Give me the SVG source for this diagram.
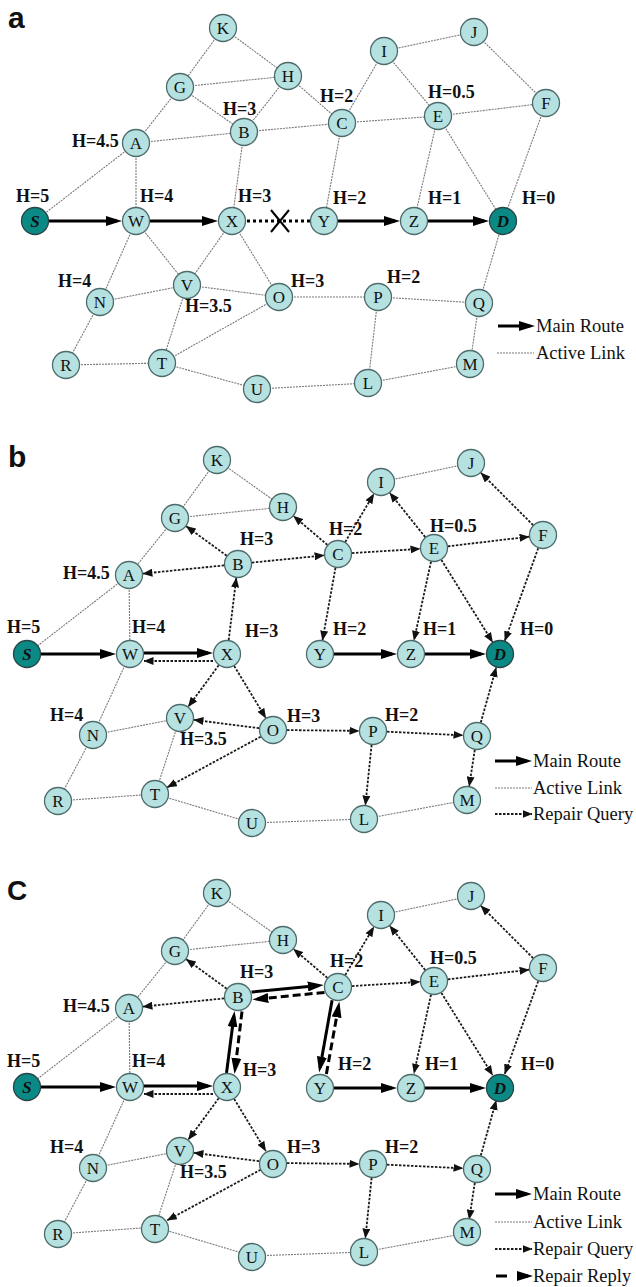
<svg xmlns="http://www.w3.org/2000/svg" width="636" height="1287" viewBox="0 0 636 1287">
<defs>
<marker id="mr" viewBox="0 0 16 10" refX="11" refY="5" markerWidth="16" markerHeight="10" orient="auto" markerUnits="userSpaceOnUse"><path d="M0,0 L16,5 L0,10 Z" fill="#000"/></marker>
<marker id="mq" viewBox="0 0 10 8" refX="9.5" refY="4" markerWidth="10" markerHeight="8" orient="auto" markerUnits="userSpaceOnUse"><path d="M0,0 L10,4 L0,8 Z" fill="#111"/></marker>
</defs>
<style>
.bg{fill:#fff}
.lk{fill:none;stroke:#7a7a7a;stroke-width:1.1;stroke-dasharray:2,1}
.mn{fill:none;stroke:#000;stroke-width:3;marker-end:url(#mr)}
.qr{fill:none;stroke:#1a1a1a;stroke-width:1.8;stroke-dasharray:2.5,1.5;marker-end:url(#mq)}
.rp{fill:none;stroke:#000;stroke-width:3;stroke-dasharray:8,4;marker-end:url(#mr)}
.br{fill:none;stroke:#000;stroke-width:3;stroke-dasharray:3,3}
.nd{fill:#b5e1e1;stroke:#4d6b6b;stroke-width:1.3}
.sd{fill:#0b8985;stroke:#2a4545;stroke-width:1.3}
.n{font-family:"Liberation Serif","Times New Roman",serif;font-size:17px;text-anchor:middle;fill:#111}
.ni{font-family:"Liberation Serif","Times New Roman",serif;font-size:17px;text-anchor:middle;fill:#111;font-style:italic;font-weight:bold}
.h{font-family:"Liberation Serif","Times New Roman",serif;font-size:18px;font-weight:bold;fill:#111}
.lg{font-family:"Liberation Serif","Times New Roman",serif;font-size:18.5px;fill:#111}
.pl{font-family:"Liberation Sans",Arial,sans-serif;font-size:30px;font-weight:bold;fill:#111}
</style>
<rect class="bg" x="0" y="0" width="636" height="1287"/>

<!-- ================= PANEL A ================= -->
<g id="panel-a">
<text class="pl" x="8" y="28">a</text>
<g id="a-connectors">
<path class="lk" d="M223,28 L180,87"/>
<path class="lk" d="M223,28 L288,76"/>
<path class="lk" d="M180,87 L288,76"/>
<path class="lk" d="M180,87 L136,143"/>
<path class="lk" d="M180,87 L244,132"/>
<path class="lk" d="M288,76 L244,132"/>
<path class="lk" d="M288,76 L342,123"/>
<path class="lk" d="M136,143 L244,132"/>
<path class="lk" d="M244,132 L342,123"/>
<path class="lk" d="M244,132 L232,221"/>
<path class="lk" d="M136,143 L136,221"/>
<path class="lk" d="M136,143 L35,221"/>
<path class="lk" d="M342,123 L384,51"/>
<path class="lk" d="M342,123 L438,116"/>
<path class="lk" d="M342,123 L324,221"/>
<path class="lk" d="M384,51 L474,32"/>
<path class="lk" d="M384,51 L438,116"/>
<path class="lk" d="M438,116 L546,103"/>
<path class="lk" d="M474,32 L546,103"/>
<path class="lk" d="M438,116 L414,221"/>
<path class="lk" d="M438,116 L503,221"/>
<path class="lk" d="M546,103 L503,221"/>
<path class="lk" d="M136,221 L100,302"/>
<path class="lk" d="M136,221 L187,285"/>
<path class="lk" d="M232,221 L187,285"/>
<path class="lk" d="M232,221 L279,297"/>
<path class="lk" d="M100,302 L187,285"/>
<path class="lk" d="M100,302 L66,365"/>
<path class="lk" d="M187,285 L279,297"/>
<path class="lk" d="M187,285 L162,363"/>
<path class="lk" d="M66,365 L162,363"/>
<path class="lk" d="M162,363 L279,297"/>
<path class="lk" d="M162,363 L257,389"/>
<path class="lk" d="M279,297 L378,297"/>
<path class="lk" d="M257,389 L368,383"/>
<path class="lk" d="M378,297 L479,303"/>
<path class="lk" d="M378,297 L368,383"/>
<path class="lk" d="M479,303 L503,221"/>
<path class="lk" d="M479,303 L470,364"/>
<path class="lk" d="M368,383 L470,364"/>
<path class="mn" d="M49,221 L117,221"/>
<path class="mn" d="M150,221 L213,221"/>
<path class="br" d="M247,221 L310,221"/>
<path d="M271,210 L289,232 M289,210 L271,232" stroke="#000" stroke-width="2" fill="none"/>
<path class="mn" d="M338,221 L395,221"/>
<path class="mn" d="M428,221 L484,221"/>
</g>
<g id="a-K"><circle class="nd" cx="223" cy="28" r="13.5"/><text class="n" x="223" y="34">K</text></g>
<g id="a-G"><circle class="nd" cx="180" cy="87" r="13.5"/><text class="n" x="180" y="93">G</text></g>
<g id="a-H"><circle class="nd" cx="288" cy="76" r="13.5"/><text class="n" x="288" y="82">H</text></g>
<g id="a-B"><circle class="nd" cx="244" cy="132" r="13.5"/><text class="n" x="244" y="138">B</text></g>
<g id="a-A"><circle class="nd" cx="136" cy="143" r="13.5"/><text class="n" x="136" y="149">A</text></g>
<g id="a-I"><circle class="nd" cx="384" cy="51" r="13.5"/><text class="n" x="384" y="57">I</text></g>
<g id="a-J"><circle class="nd" cx="474" cy="32" r="13.5"/><text class="n" x="474" y="38">J</text></g>
<g id="a-C"><circle class="nd" cx="342" cy="123" r="13.5"/><text class="n" x="342" y="129">C</text></g>
<g id="a-E"><circle class="nd" cx="438" cy="116" r="13.5"/><text class="n" x="438" y="122">E</text></g>
<g id="a-F"><circle class="nd" cx="546" cy="103" r="13.5"/><text class="n" x="546" y="109">F</text></g>
<g id="a-S"><circle class="sd" cx="35" cy="221" r="13.5"/><text class="ni" x="35" y="227">S</text></g>
<g id="a-W"><circle class="nd" cx="136" cy="221" r="13.5"/><text class="n" x="136" y="227">W</text></g>
<g id="a-X"><circle class="nd" cx="232" cy="221" r="13.5"/><text class="n" x="232" y="227">X</text></g>
<g id="a-Y"><circle class="nd" cx="324" cy="221" r="13.5"/><text class="n" x="324" y="227">Y</text></g>
<g id="a-Z"><circle class="nd" cx="414" cy="221" r="13.5"/><text class="n" x="414" y="227">Z</text></g>
<g id="a-D"><circle class="sd" cx="503" cy="221" r="13.5"/><text class="ni" x="503" y="227">D</text></g>
<g id="a-V"><circle class="nd" cx="187" cy="285" r="13.5"/><text class="n" x="187" y="291">V</text></g>
<g id="a-N"><circle class="nd" cx="100" cy="302" r="13.5"/><text class="n" x="100" y="308">N</text></g>
<g id="a-O"><circle class="nd" cx="279" cy="297" r="13.5"/><text class="n" x="279" y="303">O</text></g>
<g id="a-R"><circle class="nd" cx="66" cy="365" r="13.5"/><text class="n" x="66" y="371">R</text></g>
<g id="a-T"><circle class="nd" cx="162" cy="363" r="13.5"/><text class="n" x="162" y="369">T</text></g>
<g id="a-U"><circle class="nd" cx="257" cy="389" r="13.5"/><text class="n" x="257" y="395">U</text></g>
<g id="a-P"><circle class="nd" cx="378" cy="297" r="13.5"/><text class="n" x="378" y="303">P</text></g>
<g id="a-Q"><circle class="nd" cx="479" cy="303" r="13.5"/><text class="n" x="479" y="309">Q</text></g>
<g id="a-M"><circle class="nd" cx="470" cy="364" r="13.5"/><text class="n" x="470" y="370">M</text></g>
<g id="a-L"><circle class="nd" cx="368" cy="383" r="13.5"/><text class="n" x="368" y="389">L</text></g>
<g id="a-labels">
<text class="h" x="16" y="202">H=5</text>
<text class="h" x="140" y="202">H=4</text>
<text class="h" x="238" y="202">H=3</text>
<text class="h" x="58" y="287">H=4</text>
<text class="h" x="185" y="312">H=3.5</text>
<text class="h" x="291" y="287">H=3</text>
<text class="h" x="72" y="147">H=4.5</text>
<text class="h" x="223" y="115">H=3</text>
<text class="h" x="320" y="102">H=2</text>
<text class="h" x="428" y="98">H=0.5</text>
<text class="h" x="333" y="204">H=2</text>
<text class="h" x="428" y="204">H=1</text>
<text class="h" x="522" y="204">H=0</text>
<text class="h" x="387" y="283">H=2</text>
</g>
<g id="a-legend">
<path class="mn" d="M498,326 L530,326"/>
<text class="lg" x="536" y="332">Main Route</text>
<path class="lk" d="M497,353 L534,353"/>
<text class="lg" x="536" y="359">Active Link</text>
</g>
</g>

<!-- ================= PANEL B ================= -->
<g id="panel-b">
<text class="pl" x="8" y="467">b</text>
<g id="b-connectors">
<path class="lk" d="M217,460 L175,518"/>
<path class="lk" d="M217,460 L283,507"/>
<path class="lk" d="M175,518 L283,507"/>
<path class="lk" d="M175,518 L129,575"/>
<path class="lk" d="M129,575 L27,654"/>
<path class="lk" d="M129,575 L130,654"/>
<path class="lk" d="M381,482 L471,463"/>
<path class="lk" d="M130,654 L93,735"/>
<path class="lk" d="M93,735 L180,718"/>
<path class="lk" d="M93,735 L58,801"/>
<path class="lk" d="M180,718 L155,794"/>
<path class="lk" d="M58,801 L155,794"/>
<path class="lk" d="M155,794 L252,823"/>
<path class="lk" d="M252,823 L364,819"/>
<path class="lk" d="M364,819 L467,800"/>
<path class="qr" d="M228.7,640.1 L236.3,577.9"/>
<path class="qr" d="M224.1,565.4 L142.9,573.6"/>
<path class="qr" d="M226.7,555.7 L186.3,526.3"/>
<path class="qr" d="M251.9,562.6 L324.1,555.4"/>
<path class="qr" d="M327.4,544.9 L293.6,516.1"/>
<path class="qr" d="M345.2,542.0 L373.8,494.0"/>
<path class="qr" d="M352.0,553.1 L420.0,548.9"/>
<path class="qr" d="M335.5,567.8 L322.5,640.2"/>
<path class="qr" d="M425.2,537.1 L389.8,492.9"/>
<path class="qr" d="M447.9,546.3 L529.1,536.7"/>
<path class="qr" d="M431.0,561.7 L414.0,640.3"/>
<path class="qr" d="M441.4,559.9 L492.6,642.1"/>
<path class="qr" d="M533.1,525.1 L480.9,472.9"/>
<path class="qr" d="M538.2,548.2 L504.8,640.8"/>
<path class="qr" d="M213,661 L144,661"/>
<path class="qr" d="M218.7,665.3 L188.3,706.7"/>
<path class="qr" d="M234.2,666.0 L265.8,718.0"/>
<path class="qr" d="M259.1,728.2 L193.9,719.8"/>
<path class="qr" d="M260.7,736.7 L167.3,787.3"/>
<path class="qr" d="M287,730.1 L359,730.9"/>
<path class="qr" d="M387,731.7 L463,735.3"/>
<path class="qr" d="M371.6,744.9 L365.4,805.1"/>
<path class="qr" d="M480.8,722.5 L496.2,667.5"/>
<path class="qr" d="M474.8,749.8 L469.2,786.2"/>
<path class="mn" d="M41,654 L111,654"/>
<path class="mn" d="M144,653 L208,653"/>
<path class="mn" d="M334,654 L392,654"/>
<path class="mn" d="M425,654 L481,654"/>
</g>
<g id="b-K"><circle class="nd" cx="217" cy="460" r="13.5"/><text class="n" x="217" y="466">K</text></g>
<g id="b-G"><circle class="nd" cx="175" cy="518" r="13.5"/><text class="n" x="175" y="524">G</text></g>
<g id="b-H"><circle class="nd" cx="283" cy="507" r="13.5"/><text class="n" x="283" y="513">H</text></g>
<g id="b-B"><circle class="nd" cx="238" cy="564" r="13.5"/><text class="n" x="238" y="570">B</text></g>
<g id="b-A"><circle class="nd" cx="129" cy="575" r="13.5"/><text class="n" x="129" y="581">A</text></g>
<g id="b-I"><circle class="nd" cx="381" cy="482" r="13.5"/><text class="n" x="381" y="488">I</text></g>
<g id="b-J"><circle class="nd" cx="471" cy="463" r="13.5"/><text class="n" x="471" y="469">J</text></g>
<g id="b-C"><circle class="nd" cx="338" cy="554" r="13.5"/><text class="n" x="338" y="560">C</text></g>
<g id="b-E"><circle class="nd" cx="434" cy="548" r="13.5"/><text class="n" x="434" y="554">E</text></g>
<g id="b-F"><circle class="nd" cx="543" cy="535" r="13.5"/><text class="n" x="543" y="541">F</text></g>
<g id="b-S"><circle class="sd" cx="27" cy="654" r="13.5"/><text class="ni" x="27" y="660">S</text></g>
<g id="b-W"><circle class="nd" cx="130" cy="654" r="13.5"/><text class="n" x="130" y="660">W</text></g>
<g id="b-X"><circle class="nd" cx="227" cy="654" r="13.5"/><text class="n" x="227" y="660">X</text></g>
<g id="b-Y"><circle class="nd" cx="320" cy="654" r="13.5"/><text class="n" x="320" y="660">Y</text></g>
<g id="b-Z"><circle class="nd" cx="411" cy="654" r="13.5"/><text class="n" x="411" y="660">Z</text></g>
<g id="b-D"><circle class="sd" cx="500" cy="654" r="13.5"/><text class="ni" x="500" y="660">D</text></g>
<g id="b-V"><circle class="nd" cx="180" cy="718" r="13.5"/><text class="n" x="180" y="724">V</text></g>
<g id="b-N"><circle class="nd" cx="93" cy="735" r="13.5"/><text class="n" x="93" y="741">N</text></g>
<g id="b-O"><circle class="nd" cx="273" cy="730" r="13.5"/><text class="n" x="273" y="736">O</text></g>
<g id="b-R"><circle class="nd" cx="58" cy="801" r="13.5"/><text class="n" x="58" y="807">R</text></g>
<g id="b-T"><circle class="nd" cx="155" cy="794" r="13.5"/><text class="n" x="155" y="800">T</text></g>
<g id="b-U"><circle class="nd" cx="252" cy="823" r="13.5"/><text class="n" x="252" y="829">U</text></g>
<g id="b-P"><circle class="nd" cx="373" cy="731" r="13.5"/><text class="n" x="373" y="737">P</text></g>
<g id="b-Q"><circle class="nd" cx="477" cy="736" r="13.5"/><text class="n" x="477" y="742">Q</text></g>
<g id="b-M"><circle class="nd" cx="467" cy="800" r="13.5"/><text class="n" x="467" y="806">M</text></g>
<g id="b-L"><circle class="nd" cx="364" cy="819" r="13.5"/><text class="n" x="364" y="825">L</text></g>
<g id="b-labels">
<text class="h" x="240" y="545">H=3</text>
<text class="h" x="63" y="579">H=4.5</text>
<text class="h" x="7" y="633">H=5</text>
<text class="h" x="132" y="633">H=4</text>
<text class="h" x="245" y="637">H=3</text>
<text class="h" x="329" y="535">H=2</text>
<text class="h" x="430" y="532">H=0.5</text>
<text class="h" x="333" y="635">H=2</text>
<text class="h" x="423" y="635">H=1</text>
<text class="h" x="520" y="635">H=0</text>
<text class="h" x="50" y="721">H=4</text>
<text class="h" x="180" y="745">H=3.5</text>
<text class="h" x="287" y="722">H=3</text>
<text class="h" x="385" y="721">H=2</text>
</g>
<g id="b-legend">
<path class="mn" d="M495,761 L527,761"/>
<text class="lg" x="533" y="767">Main Route</text>
<path class="lk" d="M495,788 L532,788"/>
<text class="lg" x="533" y="794">Active Link</text>
<path class="qr" d="M495,814 L532,814"/>
<text class="lg" x="533" y="820">Repair Query</text>
</g>
</g>

<!-- ================= PANEL C ================= -->
<g id="panel-c">
<text class="pl" x="7" y="900" style="font-size:28px">C</text>
<g transform="translate(0,433)">
<g id="c-connectors">
<path class="lk" d="M217,460 L175,518"/>
<path class="lk" d="M217,460 L283,507"/>
<path class="lk" d="M175,518 L283,507"/>
<path class="lk" d="M175,518 L129,575"/>
<path class="lk" d="M129,575 L27,654"/>
<path class="lk" d="M129,575 L130,654"/>
<path class="lk" d="M381,482 L471,463"/>
<path class="lk" d="M130,654 L93,735"/>
<path class="lk" d="M93,735 L180,718"/>
<path class="lk" d="M93,735 L58,801"/>
<path class="lk" d="M180,718 L155,794"/>
<path class="lk" d="M58,801 L155,794"/>
<path class="lk" d="M155,794 L252,823"/>
<path class="lk" d="M252,823 L364,819"/>
<path class="lk" d="M364,819 L467,800"/>
<path class="qr" d="M224.1,565.4 L142.9,573.6"/>
<path class="qr" d="M226.7,555.7 L186.3,526.3"/>
<path class="qr" d="M327.4,544.9 L293.6,516.1"/>
<path class="qr" d="M345.2,542.0 L373.8,494.0"/>
<path class="qr" d="M352.0,553.1 L420.0,548.9"/>
<path class="qr" d="M425.2,537.1 L389.8,492.9"/>
<path class="qr" d="M447.9,546.3 L529.1,536.7"/>
<path class="qr" d="M431.0,561.7 L414.0,640.3"/>
<path class="qr" d="M441.4,559.9 L492.6,642.1"/>
<path class="qr" d="M533.1,525.1 L480.9,472.9"/>
<path class="qr" d="M538.2,548.2 L504.8,640.8"/>
<path class="qr" d="M213,661 L144,661"/>
<path class="qr" d="M218.7,665.3 L188.3,706.7"/>
<path class="qr" d="M234.2,666.0 L265.8,718.0"/>
<path class="qr" d="M259.1,728.2 L193.9,719.8"/>
<path class="qr" d="M260.7,736.7 L167.3,787.3"/>
<path class="qr" d="M287,730.1 L359,730.9"/>
<path class="qr" d="M387,731.7 L463,735.3"/>
<path class="qr" d="M371.6,744.9 L365.4,805.1"/>
<path class="qr" d="M480.8,722.5 L496.2,667.5"/>
<path class="qr" d="M474.8,749.8 L469.2,786.2"/>
<path class="mn" d="M41,654 L111,654"/>
<path class="mn" d="M144,653 L208,653"/>
<path class="mn" d="M334,655 L392,655"/>
<path class="mn" d="M425,655 L481,655"/>
<path class="mn" d="M226.5,640 L233.9,583"/>
<path class="mn" d="M251.6,559.1 L318.8,552.4"/>
<path class="mn" d="M332.1,567.2 L320.0,634.7"/>
<path class="rp" d="M324.5,559.4 L257.3,566.1"/>
<path class="rp" d="M326.4,640.9 L338.5,573.4"/>
<path class="rp" d="M242,578.5 L235.1,636"/>
</g>
<g id="c-K"><circle class="nd" cx="217" cy="460" r="13.5"/><text class="n" x="217" y="466">K</text></g>
<g id="c-G"><circle class="nd" cx="175" cy="518" r="13.5"/><text class="n" x="175" y="524">G</text></g>
<g id="c-H"><circle class="nd" cx="283" cy="507" r="13.5"/><text class="n" x="283" y="513">H</text></g>
<g id="c-B"><circle class="nd" cx="238" cy="564" r="13.5"/><text class="n" x="238" y="570">B</text></g>
<g id="c-A"><circle class="nd" cx="129" cy="575" r="13.5"/><text class="n" x="129" y="581">A</text></g>
<g id="c-I"><circle class="nd" cx="381" cy="482" r="13.5"/><text class="n" x="381" y="488">I</text></g>
<g id="c-J"><circle class="nd" cx="471" cy="463" r="13.5"/><text class="n" x="471" y="469">J</text></g>
<g id="c-C"><circle class="nd" cx="338" cy="554" r="13.5"/><text class="n" x="338" y="560">C</text></g>
<g id="c-E"><circle class="nd" cx="434" cy="548" r="13.5"/><text class="n" x="434" y="554">E</text></g>
<g id="c-F"><circle class="nd" cx="543" cy="535" r="13.5"/><text class="n" x="543" y="541">F</text></g>
<g id="c-S"><circle class="sd" cx="27" cy="654" r="13.5"/><text class="ni" x="27" y="660">S</text></g>
<g id="c-W"><circle class="nd" cx="130" cy="654" r="13.5"/><text class="n" x="130" y="660">W</text></g>
<g id="c-X"><circle class="nd" cx="227" cy="654" r="13.5"/><text class="n" x="227" y="660">X</text></g>
<g id="c-Y"><circle class="nd" cx="320" cy="655" r="13.5"/><text class="n" x="320" y="661">Y</text></g>
<g id="c-Z"><circle class="nd" cx="411" cy="655" r="13.5"/><text class="n" x="411" y="661">Z</text></g>
<g id="c-D"><circle class="sd" cx="500" cy="655" r="13.5"/><text class="ni" x="500" y="661">D</text></g>
<g id="c-V"><circle class="nd" cx="180" cy="718" r="13.5"/><text class="n" x="180" y="724">V</text></g>
<g id="c-N"><circle class="nd" cx="93" cy="735" r="13.5"/><text class="n" x="93" y="741">N</text></g>
<g id="c-O"><circle class="nd" cx="273" cy="731" r="13.5"/><text class="n" x="273" y="737">O</text></g>
<g id="c-R"><circle class="nd" cx="58" cy="801" r="13.5"/><text class="n" x="58" y="807">R</text></g>
<g id="c-T"><circle class="nd" cx="155" cy="796" r="13.5"/><text class="n" x="155" y="802">T</text></g>
<g id="c-U"><circle class="nd" cx="252" cy="824" r="13.5"/><text class="n" x="252" y="830">U</text></g>
<g id="c-P"><circle class="nd" cx="373" cy="731" r="13.5"/><text class="n" x="373" y="737">P</text></g>
<g id="c-Q"><circle class="nd" cx="477" cy="736" r="13.5"/><text class="n" x="477" y="742">Q</text></g>
<g id="c-M"><circle class="nd" cx="467" cy="799" r="13.5"/><text class="n" x="467" y="805">M</text></g>
<g id="c-L"><circle class="nd" cx="364" cy="819" r="13.5"/><text class="n" x="364" y="825">L</text></g>
<g id="c-labels">
<text class="h" x="240" y="545">H=3</text>
<text class="h" x="63" y="579">H=4.5</text>
<text class="h" x="7" y="634">H=5</text>
<text class="h" x="132" y="634">H=4</text>
<text class="h" x="243" y="643">H=3</text>
<text class="h" x="330" y="534">H=2</text>
<text class="h" x="430" y="531">H=0.5</text>
<text class="h" x="338" y="637">H=2</text>
<text class="h" x="425" y="637">H=1</text>
<text class="h" x="521" y="637">H=0</text>
<text class="h" x="50" y="720">H=4</text>
<text class="h" x="180" y="745">H=3.5</text>
<text class="h" x="287" y="720">H=3</text>
<text class="h" x="385" y="720">H=2</text>
</g>
<g id="c-legend">
<path class="mn" d="M495,761 L527,761"/>
<text class="lg" x="533" y="767">Main Route</text>
<path class="lk" d="M495,789 L532,789"/>
<text class="lg" x="533" y="795">Active Link</text>
<path class="qr" d="M495,816 L532,816"/>
<text class="lg" x="533" y="822">Repair Query</text>
<path d="M496,843 L528,843" fill="none" stroke="#000" stroke-width="3" stroke-dasharray="11,10" marker-end="url(#mr)"/>
<text class="lg" x="533" y="849">Repair Reply</text>
</g>
</g>
</g>
</svg>
